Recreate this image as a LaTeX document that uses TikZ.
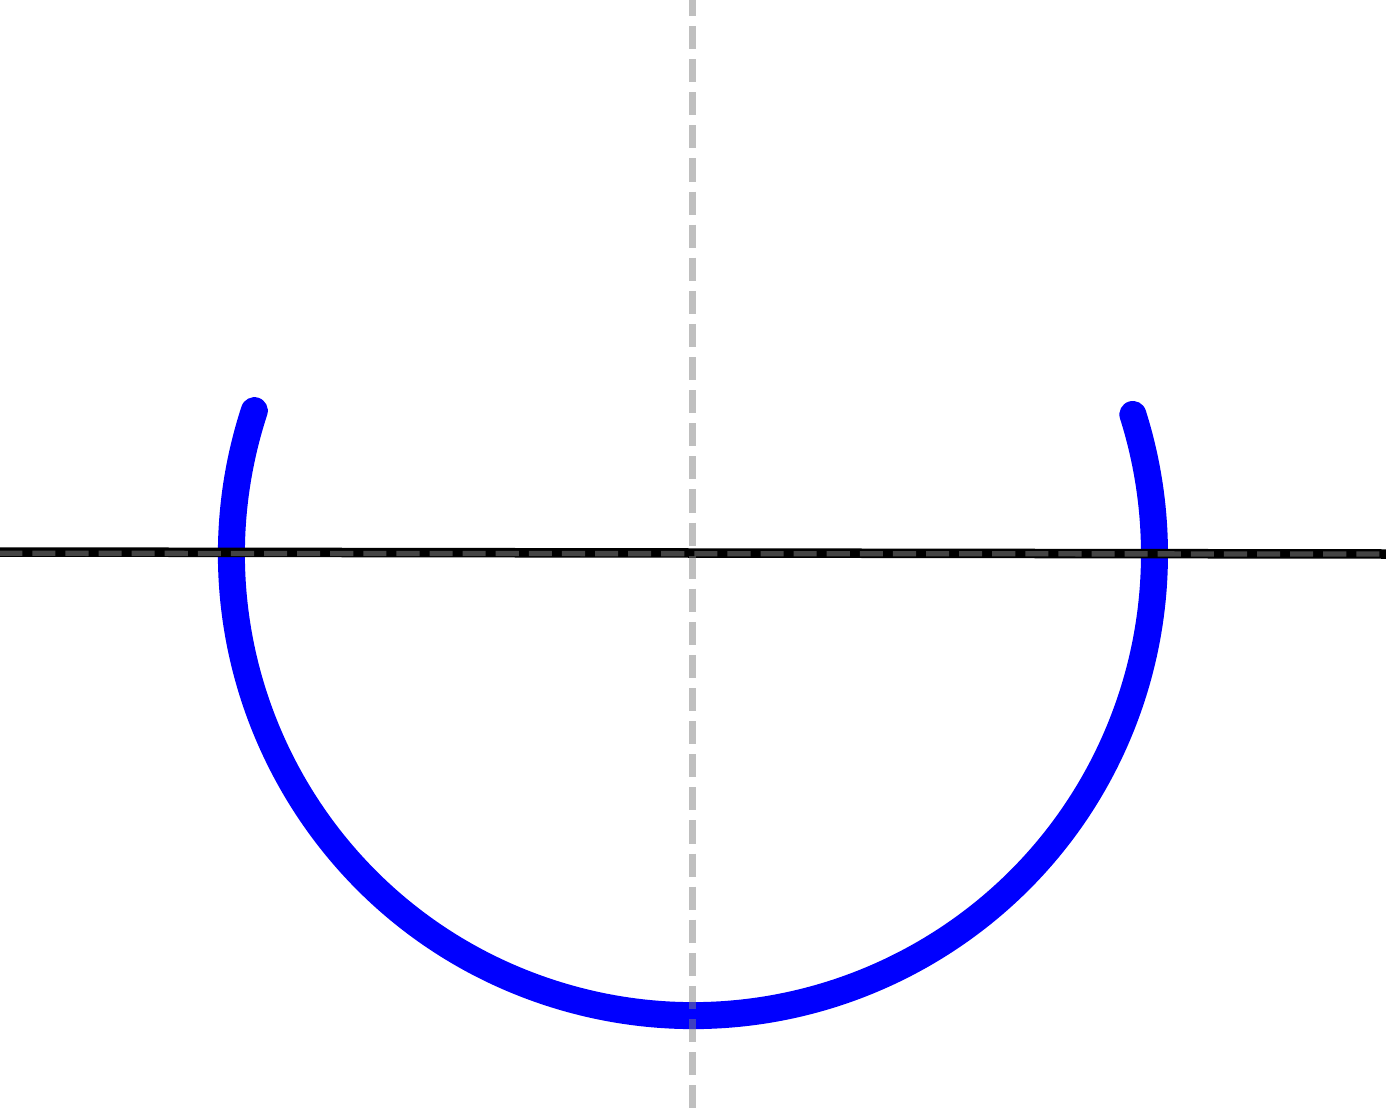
\documentclass[tikz,border=0pt]{standalone}
\begin{document}
\begin{tikzpicture}[x=1pt,y=-1pt,
  arcline/.style={draw={rgb,255:red,0;green,0;blue,255},line width=27pt,line cap=round},
  axisline/.style={draw=black,line width=9.5pt},
  axisdash/.style={draw={rgb,255:red,68;green,68;blue,68},line width=5.3pt,dash pattern=on 23.1pt off 10pt,dash phase=0.8pt},
  vdash/.style={draw={rgb,255:red,128;green,128;blue,128},draw opacity=0.5,line width=6.5pt,dash pattern=on 23.1pt off 10pt,dash phase=7.1pt}]
\useasboundingbox (0,0) rectangle (1386,1108);
\coordinate (c) at (693,554);
\coordinate (hl) at (0,552);
\coordinate (hr) at (1386,554);
\coordinate (dl) at (0,553.3);
\coordinate (dr) at (1386,554);
\coordinate (vt) at (692.5,0);
\coordinate (vb) at (692.5,1108);
% blue arc (y axis flipped: angles measured clockwise visually)
\draw[arcline] (c) ++(198.1:461.5) arc[start angle=198.1,end angle=-17.6,radius=461.5];
\draw[axisline] (hl) -- (hr);
\draw[axisdash] (dl) -- (dr);
\draw[vdash] (vt) -- (vb);
\end{tikzpicture}
\end{document}
